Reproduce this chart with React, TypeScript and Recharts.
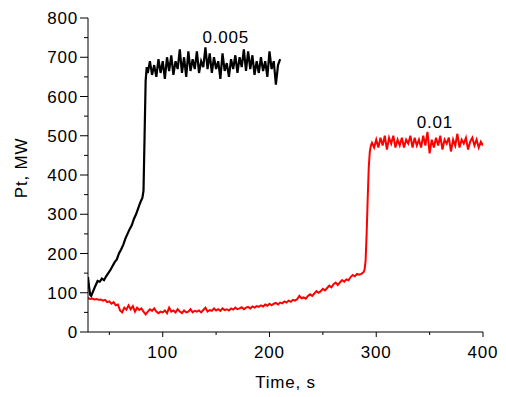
import React from 'react';
import { LineChart, Line, XAxis, YAxis, ReferenceDot } from 'recharts';

// [time s, power MW]
const blackSeries: [number, number][] = [
  [30, 140], [31, 115], [32, 95], [33, 92], [35, 105], [37, 118], [39, 130], [41, 128], [43, 136], [45, 132],
  [47, 142], [49, 150], [51, 158], [53, 168], [55, 178], [57, 185], [59, 200], [61, 210], [63, 222], [65, 238],
  [67, 250], [69, 262], [71, 272], [73, 288], [75, 300], [77, 315], [79, 330], [81, 342], [82, 360], [83, 500],
  [84, 640], [85, 675], [86, 660], [88, 690], [90, 655], [92, 680], [94, 650], [96, 695], [98, 660], [100, 690],
  [102, 645], [104, 700], [106, 665], [108, 705], [110, 655], [112, 690], [114, 670], [116, 720], [118, 660], [120, 700],
  [122, 650], [124, 715], [126, 665], [128, 695], [130, 670], [132, 715], [134, 660], [136, 690], [138, 675], [140, 725],
  [142, 670], [144, 710], [146, 660], [148, 700], [150, 670], [152, 690], [154, 645], [156, 710], [158, 665], [160, 685],
  [162, 650], [164, 695], [166, 670], [168, 705], [170, 660], [172, 700], [174, 675], [176, 720], [178, 665], [180, 715],
  [182, 670], [184, 705], [186, 655], [188, 690], [190, 660], [192, 700], [194, 665], [196, 690], [198, 650], [200, 715],
  [202, 670], [204, 690], [206, 630], [208, 680], [210, 695],
];

const redSeries: [number, number][] = [
  [30, 87], [32, 84], [34, 85], [36, 83], [38, 84], [40, 82], [42, 83], [44, 80], [46, 82], [48, 76],
  [50, 78], [52, 72], [54, 76], [56, 68], [58, 70], [60, 55], [62, 50], [64, 62], [66, 57], [68, 68],
  [70, 58], [72, 66], [74, 52], [76, 62], [78, 56], [80, 60], [82, 52], [84, 45], [86, 52], [88, 58],
  [90, 54], [92, 60], [94, 52], [96, 48], [98, 52], [100, 50], [102, 55], [104, 48], [106, 62], [108, 52],
  [110, 55], [112, 50], [114, 58], [116, 52], [118, 48], [120, 55], [122, 50], [124, 52], [126, 58], [128, 50],
  [130, 54], [132, 52], [134, 55], [136, 50], [138, 56], [140, 62], [142, 52], [144, 56], [146, 54], [148, 60],
  [150, 55], [152, 58], [154, 54], [156, 60], [158, 56], [160, 58], [162, 55], [164, 60], [166, 57], [168, 62],
  [170, 58], [172, 60], [174, 63], [176, 58], [178, 62], [180, 64], [182, 60], [184, 65], [186, 62], [188, 66],
  [190, 64], [192, 68], [194, 65], [196, 70], [198, 67], [200, 72], [202, 68], [204, 72], [206, 74], [208, 70],
  [210, 75], [212, 73], [214, 78], [216, 75], [218, 80], [220, 77], [222, 82], [224, 80], [226, 84], [228, 92],
  [230, 86], [232, 88], [234, 85], [236, 92], [238, 96], [240, 92], [242, 98], [244, 104], [246, 100], [248, 104],
  [250, 110], [252, 106], [254, 112], [256, 118], [258, 114], [260, 122], [262, 126], [264, 120], [266, 126], [268, 132],
  [270, 128], [272, 134], [274, 132], [276, 140], [278, 145], [280, 142], [282, 148], [284, 146], [286, 148], [288, 152],
  [289, 158], [290, 180], [291, 250], [292, 340], [293, 420], [294, 460], [295, 475], [296, 482], [298, 470], [300, 490],
  [302, 470], [304, 495], [306, 475], [308, 500], [310, 465], [312, 495], [314, 480], [316, 500], [318, 470], [320, 490],
  [322, 475], [324, 495], [326, 470], [328, 490], [330, 480], [332, 500], [334, 470], [336, 495], [338, 475], [340, 490],
  [342, 470], [344, 500], [346, 475], [348, 510], [350, 455], [352, 490], [354, 470], [356, 495], [358, 475], [360, 500],
  [362, 465], [364, 490], [366, 480], [368, 495], [370, 460], [372, 490], [374, 475], [376, 505], [378, 470], [380, 490],
  [382, 480], [384, 495], [386, 465], [388, 485], [390, 495], [392, 475], [394, 490], [396, 470], [398, 485], [400, 475],
];

const xTicks = [50, 100, 150, 200, 250, 300, 350, 400];
const xLabeled = [100, 200, 300, 400];
const yTicks = [0, 50, 100, 150, 200, 250, 300, 350, 400, 450, 500, 550, 600, 650, 700, 750, 800];
const yLabeled = [0, 100, 200, 300, 400, 500, 600, 700, 800];

const seriesLabels = [
  { name: '0.005', t: 159, p: 751 },
  { name: '0.01', t: 355, p: 535 },
];

const blackData = blackSeries.map(([t, p]) => ({ t, p }));
const redData = redSeries.map(([t, p]) => ({ t, p }));

const FONT = '"Liberation Sans", Arial, sans-serif';
const FS = 17;

const XTick = (props: any) => {
  const { x, y, payload } = props;
  const major = xLabeled.includes(payload.value);
  return (
    <g>
      <line x1={x} x2={x} y1={y} y2={y + (major ? 5 : 3)} stroke="#000" strokeWidth={1} />
      {major && (
        <text x={x} y={y + 26} textAnchor="middle" fontFamily={FONT} fontSize={FS} letterSpacing={0.8} fill="#000">
          {payload.value}
        </text>
      )}
    </g>
  );
};

const YTick = (props: any) => {
  const { x, y, payload } = props;
  const major = yLabeled.includes(payload.value);
  return (
    <g>
      <line x1={x - (major ? 8 : 4)} x2={x} y1={y} y2={y} stroke="#000" strokeWidth={1} />
      {major && (
        <text x={x - 10} y={y + 6} textAnchor="end" fontFamily={FONT} fontSize={FS} letterSpacing={0.8} fill="#000">
          {payload.value}
        </text>
      )}
    </g>
  );
};

export default function App() {
  return (
    <LineChart width={490} height={389} margin={{ top: 10, right: 15, bottom: 20, left: 0 }}>
      <XAxis
        type="number"
        dataKey="t"
        domain={[30, 400]}
        ticks={xTicks}
        tickSize={0}
        tickMargin={0}
        tickLine={false}
        tick={<XTick />}
        height={45}
        stroke="#000"
        allowDataOverflow
        label={{
          content: (p: any) => {
            const vb = p.viewBox;
            return (
              <text x={vb.x + vb.width / 2} y={vb.y + 56} textAnchor="middle" fontFamily={FONT} fontSize={FS} letterSpacing={0.8} fill="#000">
                Time, s
              </text>
            );
          },
        }}
      />
      <YAxis
        type="number"
        domain={[0, 800]}
        ticks={yTicks}
        width={80}
        tickSize={0}
        tickMargin={0}
        tickLine={false}
        tick={<YTick />}
        stroke="#000"
        interval={0}
        label={{
          content: (p: any) => {
            const vb = p.viewBox;
            const cy = vb.y + vb.height / 2 - 7;
            return (
              <text x={19} y={cy} transform={`rotate(-90 19 ${cy})`} textAnchor="middle" fontFamily={FONT} fontSize={FS} letterSpacing={0.8} fill="#000">
                Pt, MW
              </text>
            );
          },
        }}
      />
      <Line data={redData} dataKey="p" type="linear" stroke="#ff0000" strokeWidth={2} dot={false} isAnimationActive={false} />
      <Line data={blackData} dataKey="p" type="linear" stroke="#000000" strokeWidth={2.2} dot={false} isAnimationActive={false} />
      {seriesLabels.map((s) => (
        <ReferenceDot
          key={s.name}
          x={s.t}
          y={s.p}
          r={0}
          fill="none"
          stroke="none"
          label={{
            content: (p: any) => {
              const vb = p.viewBox;
              return (
                <text x={vb.x + (vb.width || 0) / 2} y={vb.y + (vb.height || 0) / 2 + 6} textAnchor="middle" fontFamily={FONT} fontSize={FS} letterSpacing={0.8} fill="#000">
                  {s.name}
                </text>
              );
            },
          }}
        />
      ))}
    </LineChart>
  );
}
